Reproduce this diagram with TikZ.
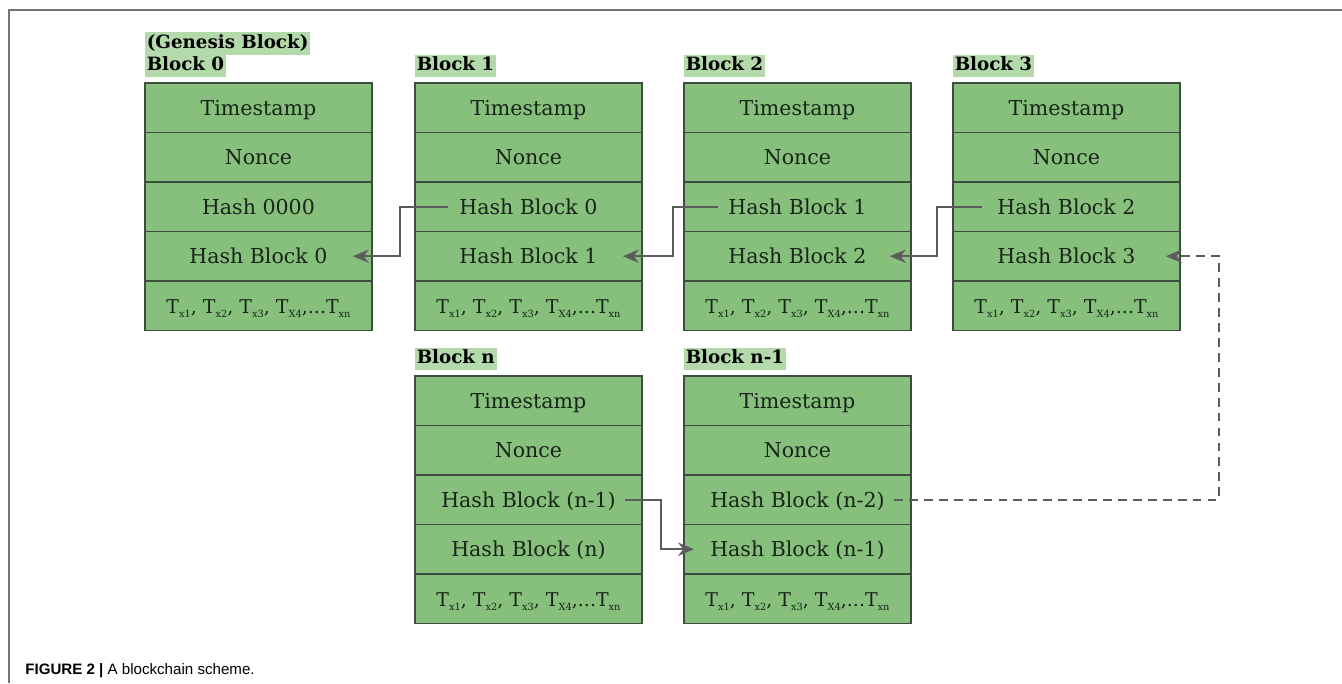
\documentclass[tikz,border=0pt]{standalone}
\usepackage{fontspec}
\setmainfont{DejaVu Serif}
\newfontfamily\capfamily{Liberation Sans}
\usetikzlibrary{positioning, arrows.meta}

\definecolor{cellgreen}{HTML}{86C07C}
\definecolor{titlegreen}{HTML}{B4DAAB}
\definecolor{cellborder}{HTML}{3E4E3E}
\definecolor{linkgray}{HTML}{5C5C5C}
\definecolor{textdark}{HTML}{182418}

\tikzset{
  cell/.style={draw=cellborder, line width=0.9pt, fill=cellgreen, rectangle,
    minimum width=4.54cm, minimum height=0.99cm, outer sep=0pt, inner sep=0pt,
    text=textdark, text height=8.5pt, text depth=0pt,
    font=\fontsize{11.7pt}{14pt}\selectfont},
  celltext/.style={inner sep=0pt, text=textdark, text height=8.5pt, text depth=0pt,
    font=\fontsize{11.7pt}{14pt}\selectfont},
  title/.style={fill=titlegreen, inner xsep=1pt, inner ysep=1.6pt, outer sep=0pt,
    text height=7.6pt, text depth=2pt, font=\fontsize{10.4pt}{12pt}\selectfont\bfseries},
  link/.style={draw=linkgray, line width=1.4pt, -{Stealth[length=9pt, width=7.5pt]}},
}

% small lowered index of a transaction
\newcommand{\tx}[1]{\raisebox{-2.6pt}{\fontsize{5.6pt}{6pt}\selectfont #1}}

% one block of the chain: name, title, north west corner, upper hash, lower hash
\newcommand{\chainblock}[5]{%
  \node[cell, anchor=north west] (#1-1) at #3 {Timestamp};
  \node[cell, below=0pt of #1-1] (#1-2) {Nonce};
  \node[cell, below=0pt of #1-2, label={[celltext, name=#1-3t]center:#4}] (#1-3) {};
  \node[cell, below=0pt of #1-3, label={[celltext, name=#1-4t]center:#5}] (#1-4) {};
  \node[cell, below=0pt of #1-4, font=\fontsize{10.8pt}{13pt}\selectfont] (#1-5)
    {T\tx{x1}, T\tx{x2}, T\tx{x3}, T\tx{X4},...T\tx{xn}};
  \node[title, anchor=south west] (#1-name) at ([yshift=3.4pt]#1-1.north west) {#2};
}

\begin{document}
\begin{tikzpicture}[x=0.02cm, y=-0.02cm]
  \useasboundingbox (0,0) rectangle (1342,683);

  % frame of the figure
  \draw[linkgray!85, line width=0.9pt] (9,683) -- (9,10) -- (1342,10);

  % upper row of blocks
  \chainblock{b0}{Block 0}{(145,83)}{Hash 0000}{Hash Block 0}
  \chainblock{b1}{Block 1}{(415,83)}{Hash Block 0}{Hash Block 1}
  \chainblock{b2}{Block 2}{(684,83)}{Hash Block 1}{Hash Block 2}
  \chainblock{b3}{Block 3}{(953,83)}{Hash Block 2}{Hash Block 3}
  \node[title, anchor=south west] (b0-genesis) at (b0-name.north west) {(Genesis Block)};

  % lower row of blocks
  \chainblock{bn}{Block n}{(415,376)}{Hash Block (n-1)}{Hash Block (n)}
  \chainblock{bn1}{Block n-1}{(684,376)}{Hash Block (n-2)}{Hash Block (n-1)}

  % links to the previous block
  \draw[link, shorten <=0.22cm, shorten >=0.5cm] (b1-3t.west) -- ([xshift=-0.3cm]b1-3.west) |- (b0-4t.east);
  \draw[link, shorten <=0.2cm, shorten >=0.5cm] (b2-3t.west) -- ([xshift=-0.22cm]b2-3.west) |- (b1-4t.east);
  \draw[link, shorten <=0.3cm, shorten >=0.46cm] (b3-3t.west) -- ([xshift=-0.32cm]b3-3.west) |- (b2-4t.east);
  \draw[link, shorten <=0.18cm, shorten >=0.32cm] (bn-3t.east) -- ([xshift=0.38cm]bn-3.east) |- (bn1-4t.west);
  \draw[link, dash pattern=on 5pt off 3.5pt, shorten <=0.18cm, shorten >=0.6cm] (bn1-3t.east) -| ([xshift=0.78cm]b3-4.east) -- (b3-4t.east);

  % caption
  \node[anchor=base west, inner sep=0pt, font=\capfamily\fontsize{8.6pt}{10pt}\selectfont] (caption) at (25,674)
    {\textbf{FIGURE 2 |} A blockchain scheme.};
\end{tikzpicture}
\end{document}
